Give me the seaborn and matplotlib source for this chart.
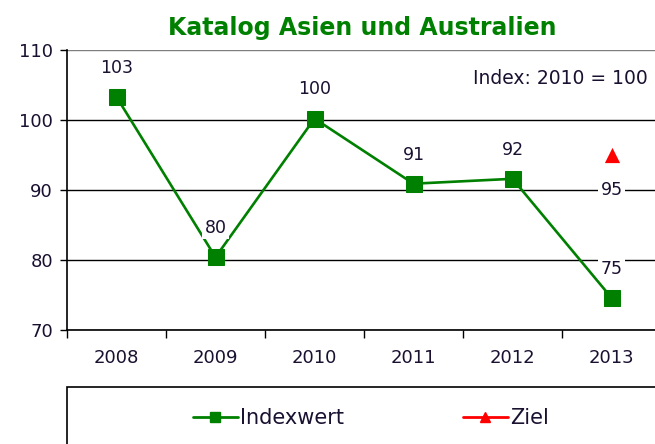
import matplotlib
matplotlib.use("Agg")
import matplotlib.pyplot as plt
import matplotlib.patches as mpatches
from matplotlib.lines import Line2D
import seaborn as sns
import pandas as pd

# Katalog index values (2010 = 100)
jahre = ["2008", "2009", "2010", "2011", "2012", "2013"]
indexwert = [103.3, 80.4, 100.2, 90.9, 91.6, 74.6]
ziel_jahr = ["2013"]
ziel_wert = [95]
y_ticks = [70, 80, 90, 100, 110]

GREEN = "#008000"
RED = "#ff0000"
TXT = "#1a1030"

sns.set_theme(style="white")
plt.rcParams["font.family"] = ["DejaVu Sans"]

W, H = 655, 444
fig = plt.figure(figsize=(W / 100, H / 100), dpi=100)
ax = fig.add_axes([67 / W, 1 - 330 / H, (661 - 67) / W, 280 / H])

df = pd.DataFrame({"Jahr": jahre, "Index": indexwert})
sns.lineplot(data=df, x="Jahr", y="Index", ax=ax, color=GREEN, lw=1.9,
             marker="s", markersize=11.5, markeredgecolor=GREEN, sort=False)
dz = pd.DataFrame({"Jahr": ziel_jahr, "Ziel": ziel_wert})
sns.scatterplot(data=dz, x="Jahr", y="Ziel", ax=ax, color=RED, marker="^",
                s=120, edgecolor=RED, linewidth=0, zorder=5)

ax.set_xlim(-0.5, len(jahre) - 0.5)
ax.set_ylim(70, 110)
ax.set_yticks(y_ticks)
ax.set_xticks(range(len(jahre)))
ax.set_xticklabels(jahre)
ax.set_xticks([i - 0.5 for i in range(len(jahre) + 1)], minor=True)
ax.tick_params(axis="x", which="major", length=0, pad=13.5, labelsize=13, labelcolor=TXT)
ax.tick_params(axis="x", which="minor", length=6, width=1, color="black", direction="out", bottom=True)
ax.tick_params(axis="y", length=5, width=1, color="black", direction="out", left=True,
               labelsize=13, labelcolor=TXT, pad=5)
ax.set_xlabel("")
ax.set_ylabel("")
ax.grid(axis="y", color="black", lw=1.0)
ax.set_axisbelow(True)
# plot-area border along the top is lighter than the gridlines
ax.get_ygridlines()[-1].set_color("#7f7f7f")
for s in ["top", "right"]:
    ax.spines[s].set_visible(False)
for s in ["left", "bottom"]:
    ax.spines[s].set_color("black")
    ax.spines[s].set_linewidth(1.2)
if ax.get_legend():
    ax.get_legend().remove()

box = dict(boxstyle="square,pad=0.12", fc="white", ec="none")
for i, v in enumerate(indexwert):
    ax.annotate(f"{v:.0f}", (i, v), xytext=(0, 21), textcoords="offset points",
                ha="center", va="center", fontsize=12.5, color=TXT, bbox=box, zorder=6)
for j, v in zip(ziel_jahr, ziel_wert):
    ax.annotate(f"{v:.0f}", (jahre.index(j), v), xytext=(0, -25), textcoords="offset points",
                ha="center", va="center", fontsize=12.5, color=TXT, bbox=box, zorder=6)

ax.text((648 - 67) / 594, (330 - 78) / 280, "Index: 2010 = 100", transform=ax.transAxes,
        ha="right", va="center", fontsize=13.5, color=TXT)

fig.text(362.5 / W, 1 - 35 / H, "Katalog Asien und Australien", ha="center", va="baseline",
         fontsize=17, fontweight="bold", color=GREEN)

# legend frame below the chart
fig.patches.append(mpatches.Rectangle((67 / W, -0.1), 1.0, 0.1 + (444 - 387) / H,
                                      transform=fig.transFigure, fill=False,
                                      ec="black", lw=1.2, clip_on=False))
handles = [Line2D([], [], color=GREEN, lw=2.0, marker="s", markersize=7),
           Line2D([], [], color=RED, lw=2.0, marker="^", markersize=7)]
fig.legend(handles, ["Indexwert", "Ziel"], loc="center", ncol=2,
           bbox_to_anchor=(371 / W, 1 - 418 / H), frameon=False, fontsize=15,
           handlelength=2.15, handletextpad=0.12, columnspacing=5.7, labelcolor=TXT)

fig.savefig("out.png", dpi=100)
